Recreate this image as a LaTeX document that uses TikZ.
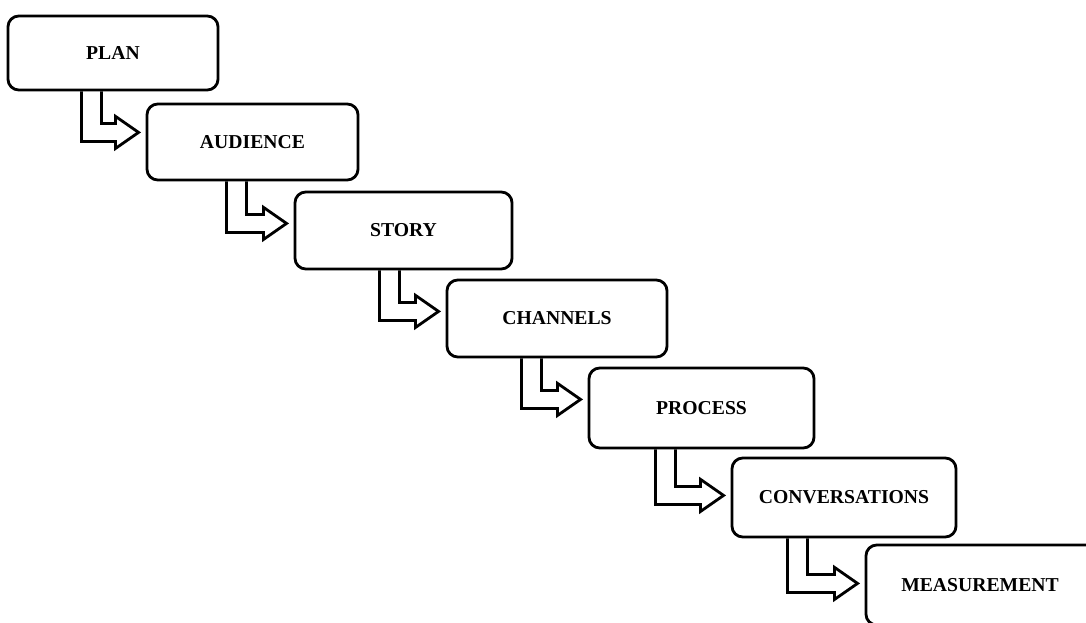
\documentclass[tikz,border=0pt]{standalone}
\usepackage{fontspec}
\setmainfont{Liberation Serif}
\usetikzlibrary{calc,positioning}
\tikzset{%
	stage/.style     = {draw, rectangle, line width=2pt, rounded corners=0.27cm, text centered, inner sep=0pt, font=\bfseries\fontsize{14}{16}\selectfont},
	hollowarrow/.style = {line width=2pt, line join=miter},
}
\begin{document}
\begin{tikzpicture}[x=0.025cm,y=-0.025cm]
		\useasboundingbox (0,0) rectangle (1086,623);
		
		\node[stage, minimum width=5.25cm,  minimum height=1.85cm]  (plan)     at (113,53)    {PLAN};
		\node[stage, minimum width=5.275cm, minimum height=1.9cm]   (audience) at (252.5,142) {AUDIENCE};
		\node[stage, minimum width=5.425cm, minimum height=1.925cm] (story)    at (403.5,230.5) {STORY};
		\node[stage, minimum width=5.5cm,   minimum height=1.925cm] (channels) at (557,318.5) {CHANNELS};
		\node[stage, minimum width=5.625cm, minimum height=2cm]     (process)  at (701.5,408) {PROCESS};
		\node[stage, minimum width=5.6cm,   minimum height=1.975cm] (convers)  at (844,497.5) {CONVERSATIONS};
		\node[stage, minimum width=6cm,     minimum height=2cm]     (measure)  at (986,585)   {MEASUREMENT\rule{0.3cm}{0pt}};
		
		\foreach \a/\b/\dx/\dy in {plan/audience/75/41, audience/story/81/42, story/channels/86/41, channels/process/76/41, process/convers/68/46, convers/measure/57/45} {
			\path (\a.south west) ++(\dx,0) coordinate (s1) ++(20,0) coordinate (s2);
			\coordinate (t) at ($(\b.west |- \a.south)+(-7,\dy)$);
			\draw[hollowarrow] (s1) |- ($(t)+(-23,9)$) -- ++(0,7) -- (t) -- ($(t)+(-23,-16)$) -- ++(0,7) -| (s2);
		}
	\end{tikzpicture}
\end{document}
